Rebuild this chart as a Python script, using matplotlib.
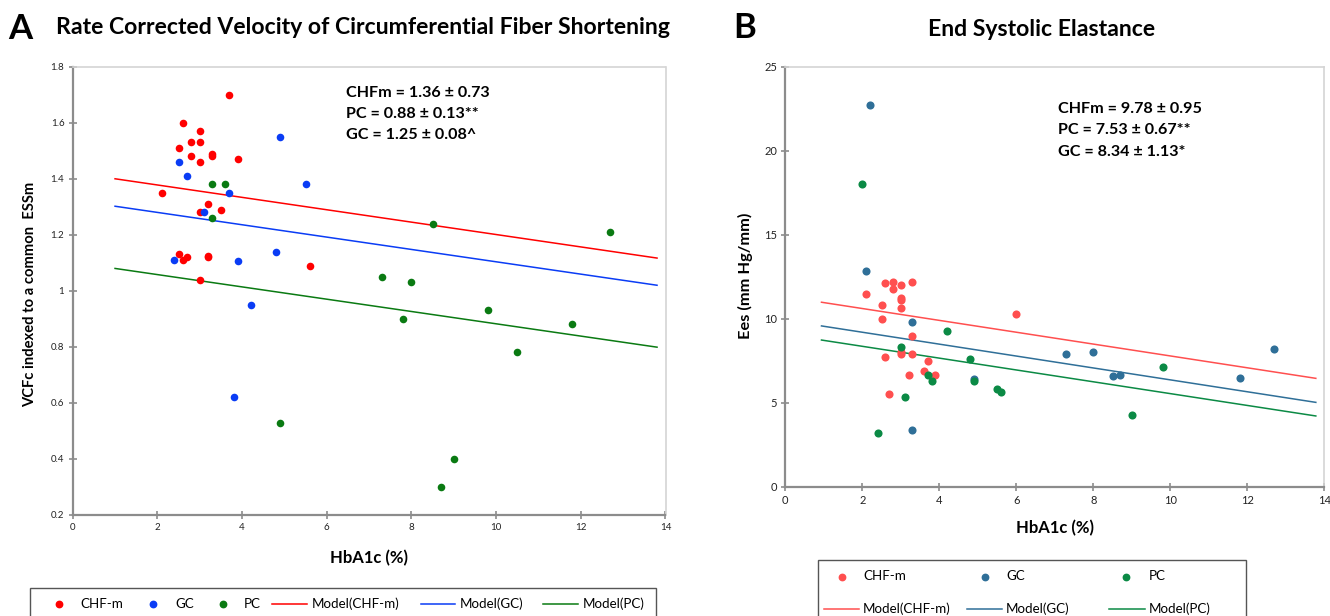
import matplotlib
matplotlib.use("Agg")
import matplotlib.pyplot as plt
from matplotlib.lines import Line2D
from matplotlib.patches import Rectangle

plt.rcParams['font.family'] = ['Lato', 'DejaVu Sans']

# ---------------- Panel A data ----------------
a_chf_x = [3.7, 2.6, 3.0, 2.8, 3.0, 2.5, 2.8, 3.3, 3.3, 3.0, 3.9, 2.1, 3.2, 3.0, 3.5,
           2.5, 2.7, 2.6, 3.2, 3.2, 5.6, 3.0]
a_chf_y = [1.70, 1.60, 1.57, 1.53, 1.53, 1.51, 1.48, 1.49, 1.48, 1.46, 1.47, 1.35, 1.31, 1.28, 1.29,
           1.13, 1.12, 1.11, 1.125, 1.12, 1.09, 1.04]
a_gc_x = [4.9, 2.5, 2.7, 5.5, 3.7, 3.1, 2.4, 3.9, 4.8, 4.2, 3.8]
a_gc_y = [1.55, 1.46, 1.41, 1.38, 1.35, 1.28, 1.11, 1.105, 1.14, 0.95, 0.62]
a_pc_x = [3.3, 3.6, 3.3, 7.3, 8.5, 12.7, 8.0, 9.8, 7.8, 11.8, 10.5, 9.0, 8.7, 4.9]
a_pc_y = [1.38, 1.38, 1.26, 1.05, 1.24, 1.21, 1.03, 0.93, 0.90, 0.88, 0.78, 0.40, 0.30, 0.53]
a_model_x = [1.0, 13.8]
a_model_chf = [1.40, 1.117]
a_model_gc = [1.302, 1.020]
a_model_pc = [1.080, 0.799]
a_stats = ["CHFm = 1.36 \u00b1 0.73", "PC = 0.88 \u00b1 0.13**", "GC = 1.25 \u00b1 0.08^"]

# ---------------- Panel B data ----------------
b_chf_x = [2.6, 2.8, 3.0, 3.3, 2.8, 2.1, 3.0, 3.0, 2.5, 3.0, 2.5, 3.3, 2.6, 3.0, 3.0,
           3.3, 3.7, 3.6, 3.2, 3.9, 2.7, 6.0]
b_chf_y = [12.1, 12.2, 12.0, 12.2, 11.75, 11.5, 11.25, 11.1, 10.8, 10.65, 10.0, 9.0, 7.7, 8.0, 7.9,
           7.9, 7.5, 6.9, 6.65, 6.67, 5.5, 10.3]
b_gc_x = [2.2, 2.1, 3.3, 4.9, 3.3, 7.3, 8.0, 8.5, 8.7, 11.8, 12.7]
b_gc_y = [22.7, 12.85, 9.8, 6.4, 3.4, 7.9, 8.0, 6.6, 6.67, 6.47, 8.18]
b_pc_x = [2.0, 4.2, 3.0, 4.8, 3.7, 3.8, 4.9, 5.5, 5.6, 3.1, 2.4, 9.8, 9.0]
b_pc_y = [18.0, 9.25, 8.33, 7.6, 6.65, 6.3, 6.3, 5.8, 5.62, 5.34, 3.2, 7.13, 4.27]
b_model_x = [0.94, 13.78]
b_model_chf = [10.98, 6.45]
b_model_gc = [9.57, 5.02]
b_model_pc = [8.73, 4.21]
b_stats = ["CHFm = 9.78 \u00b1 0.95", "PC = 7.53 \u00b1 0.67**", "GC = 8.34 \u00b1 1.13*"]

x_ticks = [0, 2, 4, 6, 8, 10, 12, 14]
a_y_ticks = [0.2, 0.4, 0.6, 0.8, 1.0, 1.2, 1.4, 1.6, 1.8]
a_y_labels = ["0.2", "0.4", "0.6", "0.8", "1", "1.2", "1.4", "1.6", "1.8"]
b_y_ticks = [0, 5, 10, 15, 20, 25]
legend_labels = ["CHF-m", "GC", "PC", "Model(CHF-m)", "Model(GC)", "Model(PC)"]

W, H = 1330, 616
fig = plt.figure(figsize=(W / 100, H / 100), dpi=100)


def fx(px):
    return px / W


def fy(py):
    return 1 - py / H


def px_axes(l, t, r, b):
    return fig.add_axes([l / W, 1 - b / H, (r - l) / W, (b - t) / H])


def style_axes(ax, tick_fs):
    for s in ('left', 'bottom'):
        ax.spines[s].set_color('#8c8c8c')
        ax.spines[s].set_linewidth(1.6)
    for s in ('top', 'right'):
        ax.spines[s].set_color('#d4d4d4')
        ax.spines[s].set_linewidth(1.2)
    ax.tick_params(direction='inout', length=6, width=1.2, color='#8c8c8c',
                   labelsize=tick_fs, labelcolor='#222222', pad=3)


def legend_dot(x, y, color):
    fig.add_artist(Line2D([fx(x)], [fy(y)], ls='none', marker='o', ms=4.6,
                          color=color, transform=fig.transFigure))


def legend_line(x1, x2, y, color):
    fig.add_artist(Line2D([fx(x1), fx(x2)], [fy(y), fy(y)], lw=1.1,
                          color=color, transform=fig.transFigure))


def legend_text(x, y, s):
    fig.text(fx(x), fy(y), s, fontsize=9.6, va='center', ha='left')


def legend_box(l, t, r, b):
    fig.add_artist(Rectangle((fx(l), fy(b)), fx(r) - fx(l), fy(t) - fy(b),
                             transform=fig.transFigure, fill=False,
                             edgecolor='#555555', lw=1.0))


# ---------------- Panel A ----------------
axA = px_axes(72.7, 66.7, 665.5, 515)
cA = {'chf': '#ff0000', 'gc': '#0a3cf5', 'pc': '#0a7a12'}
axA.plot(a_model_x, a_model_chf, color=cA['chf'], lw=1.1)
axA.plot(a_model_x, a_model_gc, color=cA['gc'], lw=1.1)
axA.plot(a_model_x, a_model_pc, color=cA['pc'], lw=1.1)
axA.scatter(a_chf_x, a_chf_y, s=30, color=cA['chf'], zorder=3, linewidths=0)
axA.scatter(a_gc_x, a_gc_y, s=30, color=cA['gc'], zorder=3, linewidths=0)
axA.scatter(a_pc_x, a_pc_y, s=30, color=cA['pc'], zorder=3, linewidths=0)
axA.set_xlim(0, 14)
axA.set_ylim(0.2, 1.8)
axA.set_xticks(x_ticks)
axA.set_yticks(a_y_ticks)
axA.set_yticklabels(a_y_labels)
style_axes(axA, 7)
axA.set_xlabel("HbA1c (%)", fontsize=12, fontweight='bold', labelpad=13)
fig.text(fx(30), fy(294), "VCFc indexed to a common  ESSm", fontsize=10.6,
         fontweight='bold', rotation=90, va='center', ha='center')
for i, s in enumerate(a_stats):
    fig.text(fx(346), fy(93 + 21 * i), s, fontsize=11.6, fontweight='bold',
             va='center', ha='left')

fig.text(fx(8), fy(29), "A", fontsize=25, fontweight='bold', va='center', ha='left')
fig.text(fx(362.5), fy(27), "Rate Corrected Velocity of Circumferential Fiber Shortening",
         fontsize=16.6, fontweight='bold', va='center', ha='center')

# Legend A (single row)
legend_box(30, 588, 656, 640)
ya = 603.7
legend_dot(59, ya, cA['chf']); legend_text(80.7, ya, legend_labels[0])
legend_dot(153.3, ya, cA['gc']); legend_text(175, ya, legend_labels[1])
legend_dot(222.7, ya, cA['pc']); legend_text(244, ya, legend_labels[2])
legend_line(272.3, 307.3, ya, cA['chf']); legend_text(311.7, ya, legend_labels[3])
legend_line(420.7, 455, ya, cA['gc']); legend_text(460, ya, legend_labels[4])
legend_line(542.7, 578.3, ya, cA['pc']); legend_text(582.7, ya, legend_labels[5])

# ---------------- Panel B ----------------
axB = px_axes(785.3, 66.7, 1324.3, 486.7)
cB = {'chf': '#ff4f4f', 'gc': '#2f6f98', 'pc': '#0b8a45'}
axB.plot(b_model_x, b_model_chf, color=cB['chf'], lw=1.1)
axB.plot(b_model_x, b_model_gc, color=cB['gc'], lw=1.1)
axB.plot(b_model_x, b_model_pc, color=cB['pc'], lw=1.1)
axB.scatter(b_chf_x, b_chf_y, s=34, color=cB['chf'], zorder=3, linewidths=0)
axB.scatter(b_gc_x, b_gc_y, s=34, color=cB['gc'], zorder=3, linewidths=0)
axB.scatter(b_pc_x, b_pc_y, s=34, color=cB['pc'], zorder=3, linewidths=0)
axB.set_xlim(0, 14)
axB.set_ylim(0, 25)
axB.set_xticks(x_ticks)
axB.set_yticks(b_y_ticks)
style_axes(axB, 8)
axB.set_xlabel("HbA1c (%)", fontsize=12, fontweight='bold', labelpad=10)
fig.text(fx(745), fy(276), "Ees (mm Hg/mm)", fontsize=11.8, fontweight='bold',
         rotation=90, va='center', ha='center')
for i, s in enumerate(b_stats):
    fig.text(fx(1058), fy(109 + 21.5 * i), s, fontsize=11.6, fontweight='bold',
             va='center', ha='left')

fig.text(fx(733), fy(28), "B", fontsize=25, fontweight='bold', va='center', ha='left')
fig.text(fx(1042), fy(29), "End Systolic Elastance",
         fontsize=16.6, fontweight='bold', va='center', ha='center')

# Legend B (two rows, three columns)
legend_box(818, 560, 1246, 640)
y1, y2 = 576.5, 608.6
legend_dot(842, y1, cB['chf']); legend_text(863, y1, legend_labels[0])
legend_dot(984.5, y1, cB['gc']); legend_text(1006, y1, legend_labels[1])
legend_dot(1126, y1, cB['pc']); legend_text(1149, y1, legend_labels[2])
legend_line(823.6, 859, y2, cB['chf']); legend_text(862.7, y2, legend_labels[3])
legend_line(966.6, 1002, y2, cB['gc']); legend_text(1006, y2, legend_labels[4])
legend_line(1109, 1145, y2, cB['pc']); legend_text(1149, y2, legend_labels[5])

fig.savefig("out.png", dpi=100)
